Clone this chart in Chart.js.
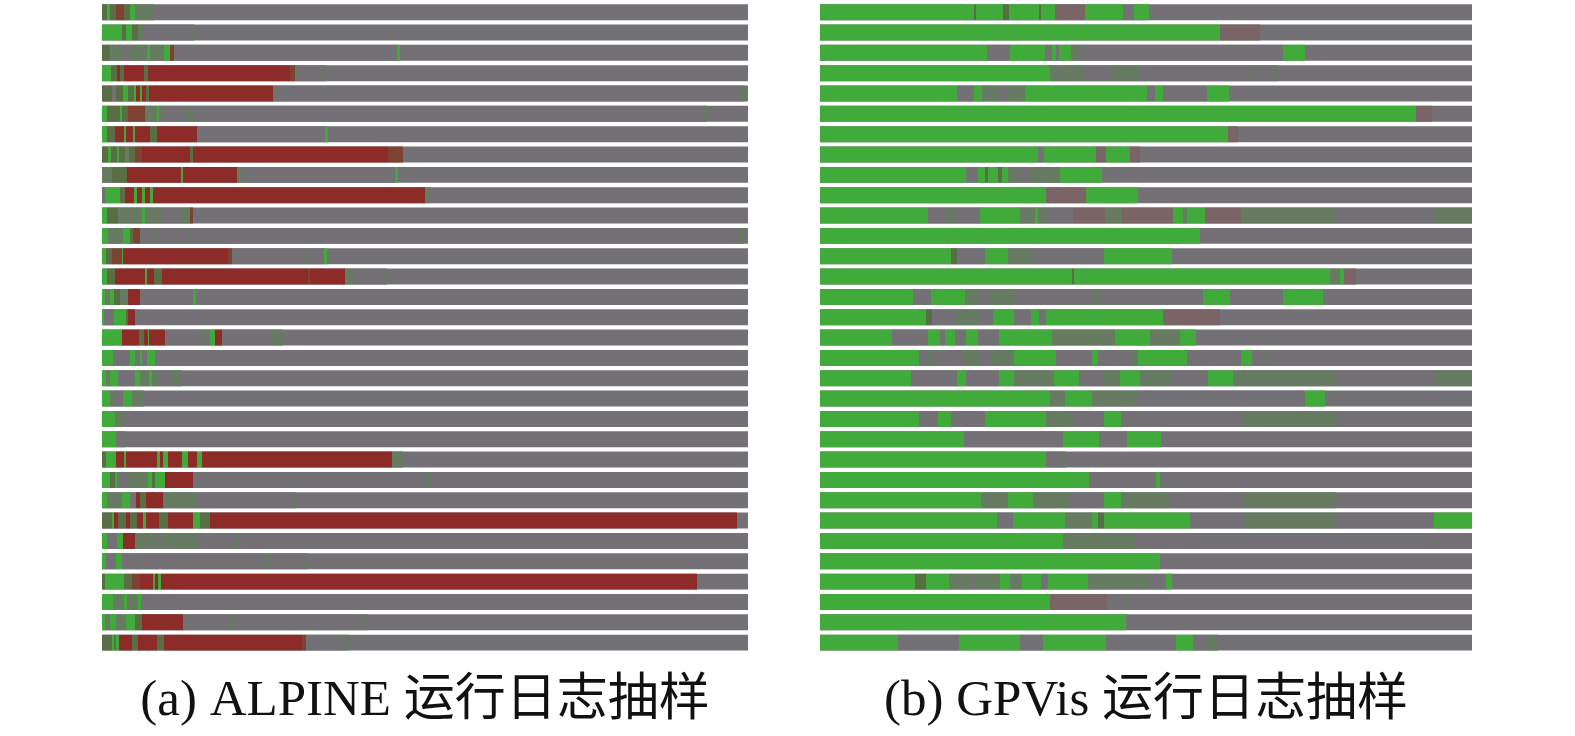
<!DOCTYPE html>
<html>
<head>
  <title>ALPINE vs GPVis run log samples</title>
  <script src="https://cdn.jsdelivr.net/npm/chart.js"></script>
  <style>
    body { margin: 0; background: #fff; }
    .panel { position: absolute; top: 0; height: 736px; }
    #alpinePanel { left: 102px; width: 646px; }
    #gpvisPanel { left: 820px; width: 652px; }
  </style>
</head>
<body>
  <div class="panel" id="alpinePanel"><canvas id="alpineChart"></canvas></div>
  <div class="panel" id="gpvisPanel"><canvas id="gpvisChart"></canvas></div>

  <script>
    // each row: runs as <colour><end position>, the rest of the row is grey
    const alpineRows = [
      "M5 G8 M14 B22 M28 G33 D52",
      "G20 M24 G30 M36 D42 X90 D92",
      "M8 D22 X28 D45 G48 D62 G68 B72 X295 G298",
      "G9 M15 R18 M22 R42 M46 R188 B193 D196 X221 D224",
      "M10 X14 M21 G26 M32 G34 R38 G40 R44 M47 R171 D173 X638 D643",
      "G5 M18 G20 M26 B43 D55 G57 X60 D63 X84 D91 X601 D605",
      "G5 M13 R22 G24 R31 G33 R48 M55 R95 X223 G226",
      "M6 G9 M15 G17 M23 D27 M33 B40 R88 M91 R286 B301",
      "D10 M25 R79 G81 R135 D140 X293 G296",
      "X3 G18 M23 R32 G35 R40 G43 R48 G51 R323 D328",
      "G5 M16 D40 G43 D60 X80 D88 B91",
      "G6 D21 G28 M31 B38 X53 D56 X88 D90 X638 D642",
      "G4 M10 B20 G21 R126 B130 X201 D203 X222 G225",
      "G5 M13 R43 G45 R52 M60 R206 B208 R243 D251 X283 D285",
      "G3 D8 G12 M18 D26 R38 X91 G94",
      "G2 X12 G24 M26 R33",
      "G20 R37 M42 R46 G47 R63 X100 D103 X108 G113 R120 X170 D181",
      "G11 X28 G33 X38 G40 X45 G53",
      "G4 D8 G16 X33 G38 D47 G50 D58 X70 D80",
      "G8 D14 X21 G30 D42",
      "G13 D21",
      "G14 D16 X21 D23",
      "M4 G14 R22 G24 R55 G58 R61 G66 R80 G86 R95 G100 R290 D301",
      "G8 M13 G15 X26 D46 G50 M53 G63 R91 X326 D329",
      "G5 D20 G28 X34 R38 M44 R61 D95 X191 D194",
      "M10 G12 R16 M24 R28 M35 R41 G44 R57 M66 R91 G98 M108 R635",
      "G5 X15 G21 R33 D55 X60 D95 X134 D137",
      "G4 X14 G20 X164 D167 X203 D206",
      "M3 G22 M30 B38 R51 G53 R56 G59 R595",
      "G11 D22 G25 D36 G39",
      "G3 D8 G14 D24 G33 M40 R81 X128 D131 X263 D266",
      "M10 G12 M14 G17 R30 M36 R55 M62 R200 B204 X244 D247"
    ];
    const gpvisRows = [
      "G154 M156 G183 M189 G219 M221 G235 P265 G303 X314 G329",
      "G400 P440",
      "G167 X190 G225 X232 G236 X239 G251 D260 X463 G485",
      "G230 D240 X242 D262 X292 D320 X431 D434 X455 D458",
      "G137 X154 G162 D180 X188 D205 G327 X335 G343 X387 G409",
      "G596 P612",
      "G408 P418",
      "G218 X224 G276 P286 G310 P320",
      "G146 X158 G165 M168 G178 M182 G188 D198 X210 D240 G282",
      "G226 P266 G318",
      "G108 X125 D135 X160 G200 D215 G218 D228 X253 P285 D302 P353 G363 D367 G385 P421 D516 X614 D652",
      "G380",
      "G131 M137 X165 G188 D213 X284 G352",
      "G252 M254 G510 D520 G524 P536",
      "G93 X111 G145 D160 X170 D195 X273 D282 X383 G410 X463 G503",
      "G106 M112 X135 D160 X173 G194 X211 G219 X226 G343 P400",
      "G72 X108 G120 X125 G135 X146 G158 X179 G232 D295 G330 D360 G376",
      "G99 X108 D114 X143 D160 X171 D194 G236 X272 G278 X310 D318 G367 X421 G432 X446 D448",
      "G91 X137 G146 X179 G194 D234 G259 X284 D300 G320 D352 X388 G413 D516 X614 D652",
      "G230 D245 G272 D318 X485 G505",
      "G99 X118 G131 X165 G226 D253 X284 G301 X421 D516",
      "G144 X243 G279 X307 G341",
      "G226 X243 D246",
      "G269 X336 G340",
      "G161 D188 G213 D250 X284 G301 D350 X423 D516",
      "G177 X193 G245 D272 G278 M284 G370 X423 D516 X614 G652",
      "G243 D316",
      "G340",
      "G95 M106 G129 D150 X155 D180 G190 D202 G221 X228 G268 D330 X346 G352",
      "G230 P287 X308 D310",
      "G306",
      "G78 X139 G200 X223 G286 X356 G373 X388 D398"
    ];
    const alpineSpan = 646;
    const gpvisSpan = 652;
    const alpineTitle = '(a) ALPINE 运行日志抽样';
    const gpvisTitle = '(b) GPVis 运行日志抽样';

    const palette = {
      G: '#40ab3b',  // success
      R: '#8d2b29',  // failure
      X: '#737176',  // idle
      M: '#5a6e45',
      D: '#667b62',
      B: '#7e4232',
      P: '#7b6466'
    };

    function parseRow(str) {
      let start = 0;
      return str.split(' ').map(tok => {
        const end = parseFloat(tok.slice(1));
        const run = { c: tok[0], s: start, e: end };
        start = end;
        return run;
      });
    }

    function makeChart(canvasId, rows, span, title) {
      const runs = rows.map(parseRow);
      const maxRuns = Math.max(...runs.map(r => r.length));
      const datasets = [];
      for (let k = 0; k < maxRuns; k++) {
        datasets.push({
          data: runs.map(r => r[k] ? [r[k].s, r[k].e] : null),
          backgroundColor: runs.map(r => r[k] ? palette[r[k].c] : 'rgba(0,0,0,0)'),
          grouped: false,
          borderWidth: 0
        });
      }
      // grey base under everything (last dataset is drawn first)
      datasets.push({
        data: runs.map(() => [0, span]),
        backgroundColor: palette.X,
        grouped: false,
        borderWidth: 0
      });

      new Chart(document.getElementById(canvasId), {
        type: 'bar',
        data: {
          labels: rows.map((_, i) => 'log ' + (i + 1)),
          datasets: datasets
        },
        options: {
          indexAxis: 'y',
          responsive: true,
          maintainAspectRatio: false,
          animation: false,
          barPercentage: 0.786,
          categoryPercentage: 1,
          layout: { padding: { top: 2, left: 0, right: 0, bottom: 0 } },
          scales: {
            x: { type: 'linear', min: 0, max: span, display: false },
            y: { display: false }
          },
          plugins: {
            legend: { display: false },
            tooltip: { enabled: false },
            title: {
              display: true,
              position: 'bottom',
              text: title,
              color: '#111111',
              font: {
                family: '"Liberation Serif", "Noto Sans CJK SC", serif',
                size: 51,
                weight: 'normal',
                lineHeight: 1.2
              },
              padding: { top: 18, bottom: 4 }
            }
          }
        }
      });
    }

    makeChart('alpineChart', alpineRows, alpineSpan, alpineTitle);
    makeChart('gpvisChart', gpvisRows, gpvisSpan, gpvisTitle);
  </script>
</body>
</html>
